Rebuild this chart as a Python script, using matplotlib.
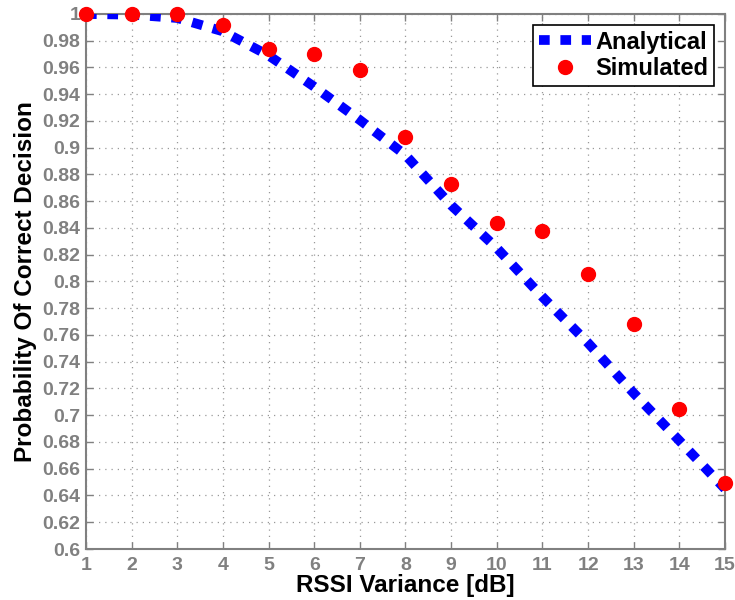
import numpy as np
import matplotlib.pyplot as plt

plt.rcParams['font.family'] = ['Liberation Sans', 'DejaVu Sans']

# RSSI variance [dB]
variance = [1, 2, 3, 4, 5, 6, 7, 8, 9, 10, 11, 12, 13, 14, 15]
analytical = [1.0, 0.9995, 0.997, 0.987, 0.969, 0.9456, 0.9207, 0.8945, 0.857,
              0.825, 0.7885, 0.754, 0.7165, 0.681, 0.645]
simulated = [1.0, 1.0, 1.0, 0.9918, 0.9736, 0.970, 0.958, 0.908, 0.8726,
             0.8434, 0.8374, 0.8055, 0.7683, 0.7043, 0.6497]

grey = '#808080'

fig = plt.figure(figsize=(7.35, 6.0), dpi=100)
ax = fig.add_axes([0.117, 0.085, 0.8694, 0.8917])

ax.plot(variance, analytical, color='#0000ff', lw=7, linestyle=(0, (1.1, 1.1)),
        dash_capstyle='butt', label='Analytical', zorder=3)
ax.plot(variance, simulated, 'o', color='#ff0000', ms=10, mec='#ff0000',
        label='Simulated', zorder=4, clip_on=False)

ax.set_xlim(1, 15)
ax.set_ylim(0.6, 1.0)
ax.set_xticks(np.arange(1, 16))
yt = np.round(np.arange(0.6, 1.001, 0.02), 2)
ax.set_yticks(yt)
ax.set_yticklabels(['1' if v == 1 else ('%g' % v) for v in yt])

ax.grid(True, linestyle=(0, (1, 4)), color='#999999', lw=0.9)
for s in ax.spines.values():
    s.set_color(grey)
    s.set_linewidth(1.5)
ax.tick_params(direction='in', length=5, width=1, color=grey,
               top=True, right=True, labelcolor=grey, labelsize=14)
ax.tick_params(axis='x', pad=6)
ax.tick_params(axis='y', pad=4)
for lab in ax.get_xticklabels() + ax.get_yticklabels():
    lab.set_fontweight('bold')

ax.set_xlabel('RSSI Variance [dB]', fontsize=17.5, fontweight='bold', labelpad=0)
ax.set_ylabel('Probability Of Correct Decision', fontsize=17.5, fontweight='bold', labelpad=4)

leg = ax.legend(loc='upper right', prop={'family': 'Liberation Sans', 'weight': 'bold', 'size': 17},
                fancybox=False, framealpha=1, edgecolor='black', borderpad=0.25,
                handlelength=2.2, handletextpad=0.2, labelspacing=0.15,
                borderaxespad=0.45)
leg.get_frame().set_linewidth(1.2)

fig.savefig('out.png', dpi=100)
